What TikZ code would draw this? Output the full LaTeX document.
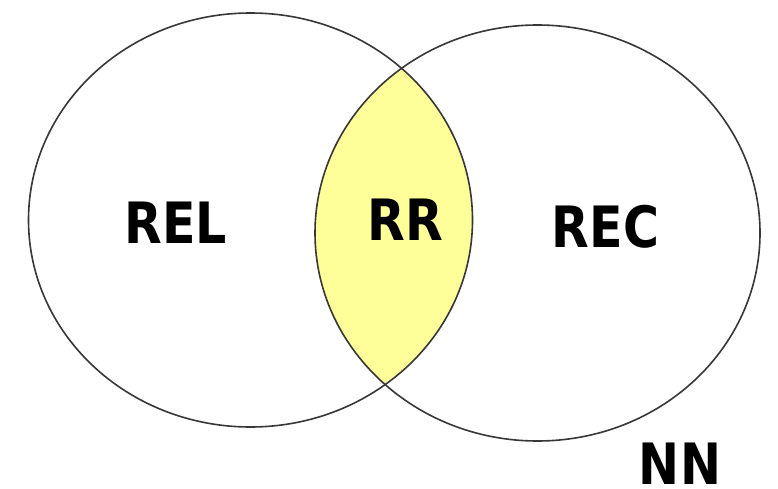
\documentclass[tikz,border=0pt]{standalone}
\usepackage{fontspec}
\usepackage{graphicx}
\newfontfamily\lblfont{DejaVu Sans Bold}
\definecolor{lensyellow}{RGB}{255,255,153}
\definecolor{edgegray}{RGB}{55,55,55}
\begin{document}
\begin{tikzpicture}[x=1pt,y=-1pt,
  setlabel/.style={inner sep=0pt,anchor=base,text depth=0pt,font=\lblfont\fontsize{57}{60}\selectfont},
  setedge/.style={draw=edgegray,line width=1.6pt}]
\useasboundingbox (0,0) rectangle (778,489);
\fill[white] (0,0) rectangle (778,489);
\begin{scope}
  \clip (250.5,220) ellipse [x radius=222, y radius=207];
  \fill[lensyellow] (537.5,233) ellipse [x radius=222.5, y radius=208];
\end{scope}
\draw[setedge] (250.5,220) ellipse [x radius=222, y radius=207];
\draw[setedge] (537.5,233) ellipse [x radius=222.5, y radius=208];
\node[setlabel] (rel) at (176,243) {\scalebox{0.86}[1]{REL}};
\node[setlabel] (rr) at (405,240) {\scalebox{0.86}[1]{RR}};
\node[setlabel] (rec) at (605.5,247) {\scalebox{0.86}[1]{REC}};
\node[setlabel] (nn) at (680,484) {\scalebox{0.86}[1]{NN}};
\end{tikzpicture}
\end{document}
